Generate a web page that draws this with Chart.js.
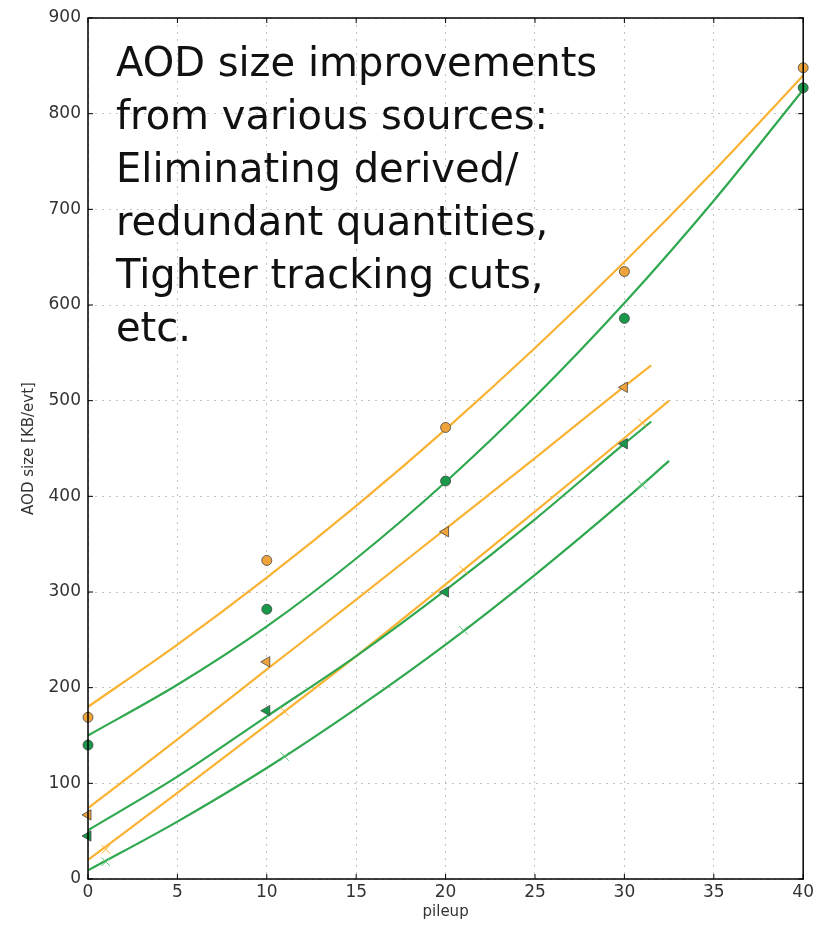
<!DOCTYPE html>
<html>
<head>
<meta charset="utf-8">
<script src="https://cdn.jsdelivr.net/npm/chart.js@4/dist/chart.umd.min.js"></script>
<style>
  html, body { margin: 0; padding: 0; background: #fff; }
  #wrap { position: relative; width: 817px; height: 925px; }
  #note {
    position: absolute; left: 116px; top: 36px;
    font-family: "DejaVu Sans", sans-serif; font-size: 40px; line-height: 53px;
    color: #111; white-space: pre; pointer-events: none;
  }
</style>
</head>
<body>
<div id="wrap">
  <canvas id="chart" width="817" height="925"></canvas>
  <div id="note">AOD size improvements
from various sources:
Eliminating derived/
redundant quantities,
Tighter tracking cuts,
etc.</div>
</div>
<script>
// measured points
const markerX      = [0, 10, 20, 30, 40];
const orangeCircle = [169, 333, 472, 635, 848];
const greenCircle  = [140, 282, 416, 586, 827];

const triX         = [0, 10, 20, 30];
const orangeTri    = [67, 227, 363, 514];
const greenTri     = [45, 176, 300, 455];

const crossX       = [1, 11, 21, 31];
const orangeCross  = [31, 175, 323, 477];
const greenCross   = [18, 128, 260, 412];

// fit curves
const fitLongX     = [0, 5, 10, 15, 20, 25, 30, 35, 40];
const fitOrangeCirc = [180, 245, 315, 390, 470, 555, 645, 740, 840];
const fitGreenCirc  = [150, 203, 264, 335, 415, 504, 602, 709, 825];

const fitTriX      = [0, 5, 10, 15, 20, 25, 30, 31.5];
const fitOrangeTri = [74, 146, 219, 292, 366, 440, 515, 537];
const fitGreenTri  = [51, 107, 170, 233, 302, 376, 455, 478];

const fitCrossX      = [0, 5, 10, 15, 20, 25, 30, 32.5];
const fitOrangeCross = [20, 90, 161, 233, 308, 384, 461, 500];
const fitGreenCross  = [9, 60, 116, 178, 245, 318, 396, 437];

const ORANGE = '#f9b232';
const GREEN  = '#2fa84f';
const ORANGE_PT = '#eea33b';
const GREEN_PT  = '#18994a';

const pts = (xs, ys) => xs.map((x, i) => ({ x, y: ys[i] }));

function curve(xs, ys, color) {
    return {
        data: pts(xs, ys), showLine: true, borderColor: color, borderWidth: 2.2,
        pointRadius: 0, cubicInterpolationMode: 'monotone', order: 2,
    };
}
function marks(xs, ys, color, style, extra) {
    return Object.assign({
        data: pts(xs, ys), showLine: false, pointStyle: style,
        backgroundColor: color, borderColor: '#444', borderWidth: 0.8,
        pointRadius: 5, order: 1,
    }, extra || {});
}

const frame = {
    id: 'frame',
    afterDraw(chart) {
        const { ctx, chartArea: a, scales } = chart;
        ctx.save();
        ctx.strokeStyle = '#000';
        ctx.lineWidth = 1.5;
        ctx.strokeRect(a.left, a.top, a.right - a.left, a.bottom - a.top);
        ctx.lineWidth = 1;
        ctx.beginPath();
        scales.x.ticks.forEach(t => {
            const px = scales.x.getPixelForValue(t.value);
            ctx.moveTo(px, a.bottom); ctx.lineTo(px, a.bottom - 5);
            ctx.moveTo(px, a.top);    ctx.lineTo(px, a.top + 5);
        });
        scales.y.ticks.forEach(t => {
            const py = scales.y.getPixelForValue(t.value);
            ctx.moveTo(a.left, py);  ctx.lineTo(a.left + 5, py);
            ctx.moveTo(a.right, py); ctx.lineTo(a.right - 5, py);
        });
        ctx.stroke();
        ctx.restore();
    },
};

new Chart(document.getElementById('chart'), {
    type: 'scatter',
    data: {
        datasets: [
            marks(markerX, orangeCircle, ORANGE_PT, 'circle'),
            marks(markerX, greenCircle, GREEN_PT, 'circle'),
            marks(triX, orangeTri, ORANGE_PT, 'triangle', { rotation: -90, pointRadius: 6 }),
            marks(triX, greenTri, GREEN_PT, 'triangle', { rotation: -90, pointRadius: 6 }),
            marks(crossX, orangeCross, ORANGE, 'crossRot', { borderColor: ORANGE, borderWidth: 1, pointRadius: 6 }),
            marks(crossX, greenCross, '#5cc27a', 'crossRot', { borderColor: '#5cc27a', borderWidth: 1, pointRadius: 6 }),
            curve(fitLongX, fitOrangeCirc, ORANGE),
            curve(fitLongX, fitGreenCirc, GREEN),
            curve(fitTriX, fitOrangeTri, ORANGE),
            curve(fitTriX, fitGreenTri, GREEN),
            curve(fitCrossX, fitOrangeCross, ORANGE),
            curve(fitCrossX, fitGreenCross, GREEN),
        ],
    },
    options: {
        responsive: false,
        animation: false,
        clip: false,
        layout: { padding: { left: 0, right: 12, top: 18, bottom: 0 } },
        plugins: { legend: { display: false }, tooltip: { enabled: false } },
        scales: {
            x: {
                type: 'linear', min: 0, max: 40,
                ticks: { stepSize: 5, color: '#333', font: { family: 'DejaVu Sans', size: 17 }, padding: 3 },
                grid: { color: '#c4c4c4', drawTicks: false },
                border: { display: false, dash: [2, 5] },
                title: { display: true, text: 'pileup', color: '#333', font: { family: 'DejaVu Sans', size: 15 }, padding: { top: 2 } },
                afterFit(s) { s.height = 46; },
            },
            y: {
                type: 'linear', min: 0, max: 900,
                ticks: { stepSize: 100, color: '#333', font: { family: 'DejaVu Sans', size: 17 }, padding: 7 },
                grid: { color: '#c4c4c4', drawTicks: false },
                border: { display: false, dash: [2, 5] },
                title: { display: true, text: 'AOD size [KB/evt]', color: '#333', font: { family: 'DejaVu Sans', size: 15 }, padding: { top: 20, bottom: 0 } },
                afterFit(s) { s.width = 88; },
            },
        },
    },
    plugins: [frame],
});
</script>
</body>
</html>
